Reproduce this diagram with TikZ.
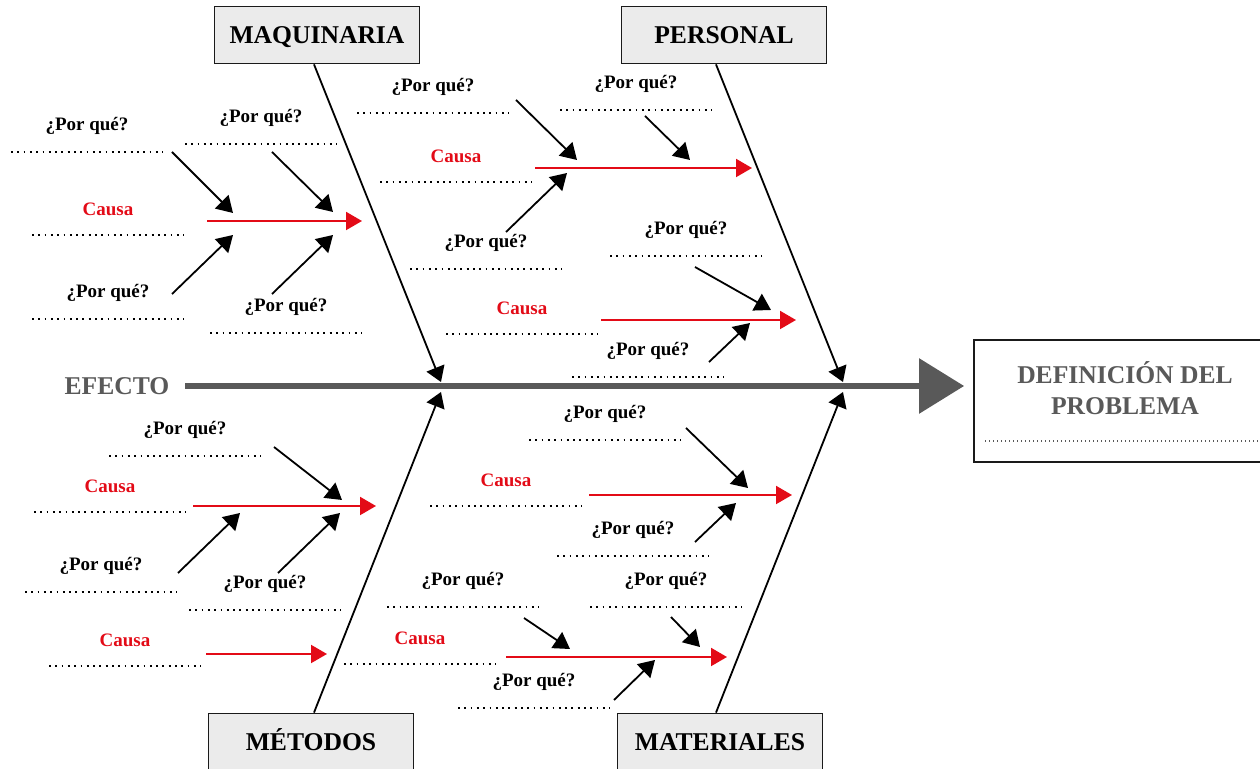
\documentclass[tikz,border=0pt]{standalone}
\usepackage{fontspec}
\setmainfont{Liberation Serif}
\usetikzlibrary{arrows.meta,positioning,calc}
\definecolor{fishred}{HTML}{E30B17}
\definecolor{fishgray}{HTML}{595959}
\definecolor{fishbox}{HTML}{EBEBEB}
\definecolor{fishink}{HTML}{1A1A1A}
\tikzset{
  cat/.style={draw=fishink, fill=fishbox, line width=0.9pt, minimum width=102.5pt, minimum height=28.5pt, text height=8.6pt, text depth=0pt, font=\bfseries\fontsize{12.8}{14}\selectfont},
  why/.style={font=\bfseries\fontsize{9.5}{11}\selectfont, inner sep=0pt},
  causa/.style={why, text=fishred},
  dots/.style={line width=0.9pt, dash pattern=on 0.9pt off 2.25pt},
  bone/.style={line width=0.9pt, -{Triangle[length=7.5pt,width=9.5pt]}},
  whyarr/.style={line width=0.9pt, -{Triangle[length=8pt,width=9.5pt]}},
  causearr/.style={draw=fishred, line width=1pt, -{Triangle[length=8pt,width=9pt]}},
  spine/.style={draw=fishgray, line width=3pt, -{Triangle[length=22.5pt,width=27pt]}},
}

\begin{document}
\begin{tikzpicture}[x=0.5pt,y=-0.5pt]
      \useasboundingbox (0,0) rectangle (1260,769);
      % head and spine
      \node[draw=fishink, line width=0.9pt, minimum width=151pt, minimum height=61pt] (prob) at (1125,401) {};
      \node[align=center, text=fishgray, font=\bfseries\fontsize{12.8}{15.5}\selectfont] (probtxt) at (1125,388) {DEFINICIÓN DEL\\PROBLEMA};
      \coordinate (proba) at (985,441); \coordinate (probb) at (1262,441);
      \draw[fishgray, line width=0.6pt, dash pattern=on 0.6pt off 1.4pt] (proba) -- (probb);
      \node[text=fishgray, font=\bfseries\fontsize{12.8}{14}\selectfont] (efecto) at (117,386) {EFECTO};
      \coordinate (spinestart) at (185,386);
      \draw[spine, shorten >=4.5pt] (spinestart) -- (prob.west |- spinestart);
      % categories and main bones
      \node[cat] (maq) at (317,35) {MAQUINARIA};
      \node[cat] (pers) at (724,35) {PERSONAL};
      \node[cat] (met) at (311,742) {MÉTODOS};
      \node[cat] (mat) at (720,742) {MATERIALES};
      \coordinate (maqtip) at (441,382); \coordinate (perstip) at (843,382);
      \coordinate (mettip) at (441,392); \coordinate (mattip) at (843,392);
      \draw[bone] ([xshift=-1.5pt]maq.south) -- (maqtip);
      \draw[bone] ([xshift=-4pt]pers.south) -- (perstip);
      \draw[bone] ([xshift=1.5pt]met.north) -- (mettip);
      \draw[bone] ([xshift=-2pt]mat.north) -- (mattip);
      % causes: label, arrow from, arrow to, arrow y
      \foreach \n/\lx/\ly/\ax/\bx/\ay in {1/108/209/207/362/221, 2/456/156/535/752/168, 3/522/308/601/796/320,
        4/110/486/193/376/506, 5/125/640/206/327/654, 6/506/480/589/792/495, 7/420/638/506/727/657}
      {
        \node[causa] (c\n) at (\lx,\ly) {Causa};
        \draw[dots] ([shift={(-38pt,-13pt)}]c\n.center) -- ([shift={(38pt,-13pt)}]c\n.center);
        \coordinate (c\n s) at (\ax,\ay); \coordinate (c\n t) at (\bx,\ay);
        \draw[causearr] (c\n s) -- (c\n t);
      }
      % sub-causes: label, arrow from, arrow to
      \foreach \n/\lx/\ly/\ax/\ay/\bx/\by in {1/87/126/172/152/233/213, 2/261/118/272/152/333/212,
        3/108/293/172/294/233/235, 4/286/307/272/294/333/235, 5/433/87/516/100/577/160,
        6/636/84/645/116/690/160, 7/486/243/506/232/567/173, 8/686/230/695/267/771/310,
        9/648/351/709/362/750/323, 10/185/430/274/447/342/500, 11/101/566/178/573/240/513,
        12/265/584/278/573/340/513, 13/605/414/686/428/748/488, 14/633/530/695/542/736/503,
        15/463/581/524/618/570/649, 16/666/581/671/617/700/647, 17/534/682/614/700/655/660}
      {
        \node[why] (w\n) at (\lx,\ly) {¿Por qué?};
        \draw[dots] ([shift={(-38pt,-13pt)}]w\n.center) -- ([shift={(38pt,-13pt)}]w\n.center);
        \coordinate (w\n s) at (\ax,\ay); \coordinate (w\n t) at (\bx,\by);
        \draw[whyarr] (w\n s) -- (w\n t);
      }
    \end{tikzpicture}
\end{document}
